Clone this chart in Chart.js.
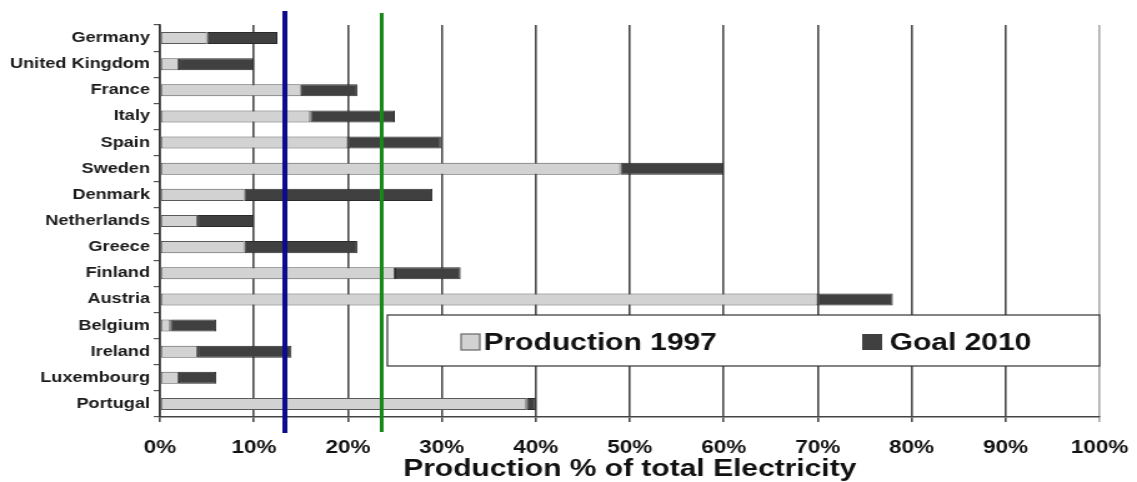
<!DOCTYPE html>
<html lang="en">
<head>
  <meta charset="UTF-8" />
  <title>Production 1997 vs Goal 2010</title>
  <script src="https://cdn.jsdelivr.net/npm/chart.js"></script>
  <style>
    html, body { margin: 0; background: #fff; overflow: hidden; }
    /* the source picture is stretched sideways, so draw narrow and stretch */
    #wrap { width: 910px; height: 482px; transform: scaleX(1.2495); transform-origin: 0 0; }
  </style>
</head>
<body>
  <div id="wrap"><canvas id="chart" width="910" height="482"></canvas></div>

  <script>
    const countries = ['Germany', 'United Kingdom', 'France', 'Italy', 'Spain', 'Sweden', 'Denmark',
      'Netherlands', 'Greece', 'Finland', 'Austria', 'Belgium', 'Ireland', 'Luxembourg', 'Portugal'];
    const production1997 = [5, 2, 15, 16, 20, 49, 9, 4, 9, 25, 70, 1.1, 4, 2, 39];
    const goal2010 = [12.5, 10, 21, 25, 29.9, 60, 29, 10, 21, 32, 78, 6, 14, 6, 40];
    const blueMark = 13.3;
    const greenMark = 23.6;

    const font = "'Liberation Sans', Arial, sans-serif";

    // legend box + the two vertical marker lines
    const overlay = {
      id: 'overlay',
      afterDatasetsDraw(chart) {
        const { ctx, chartArea } = chart;
        const x = chart.scales.x;
        ctx.save();

        // legend
        ctx.fillStyle = '#fff';
        ctx.strokeStyle = '#333';
        ctx.lineWidth = 1.2;
        ctx.fillRect(310, 315, chartArea.right - 310, 51);
        ctx.strokeRect(310, 315, chartArea.right - 310, 51);
        ctx.fillStyle = '#d2d2d2';
        ctx.fillRect(369, 334, 15, 16);
        ctx.strokeStyle = '#666';
        ctx.strokeRect(369, 334, 15, 16);
        ctx.fillStyle = '#404040';
        ctx.fillRect(690, 334, 16, 16);
        ctx.fillStyle = '#111';
        ctx.font = 'bold 24px ' + font;
        ctx.textBaseline = 'alphabetic';
        ctx.fillText('Production 1997', 387, 350);
        ctx.fillText('Goal 2010', 712, 350);

        // markers
        ctx.strokeStyle = '#0b0b8c';
        ctx.lineWidth = 4;
        ctx.beginPath();
        ctx.moveTo(x.getPixelForValue(blueMark), chartArea.top - 14);
        ctx.lineTo(x.getPixelForValue(blueMark), chartArea.bottom + 16);
        ctx.stroke();
        ctx.strokeStyle = '#17891a';
        ctx.lineWidth = 3;
        ctx.beginPath();
        ctx.moveTo(x.getPixelForValue(greenMark), chartArea.top - 12);
        ctx.lineTo(x.getPixelForValue(greenMark), chartArea.bottom + 15);
        ctx.stroke();
        ctx.restore();
      }
    };

    new Chart(document.getElementById('chart'), {
      type: 'bar',
      data: {
        labels: countries,
        datasets: [
          {
            label: 'Production 1997',
            data: production1997,
            backgroundColor: '#d2d2d2',
            borderColor: '#5a5a5a',
            borderWidth: 1,
            borderSkipped: false
          },
          {
            label: 'Goal 2010',
            data: countries.map((c, i) => [production1997[i], goal2010[i]]),
            backgroundColor: '#404040',
            borderColor: '#2a2a2a',
            borderWidth: 1,
            borderSkipped: false
          }
        ]
      },
      options: {
        indexAxis: 'y',
        responsive: false,
        animation: false,
        grouped: false,
        barPercentage: 0.46,
        categoryPercentage: 1,
        layout: { padding: { top: 25, right: 30, left: 0, bottom: 0 } },
        plugins: {
          legend: { display: false },
          tooltip: { enabled: false }
        },
        scales: {
          x: {
            min: 0,
            max: 100,
            ticks: {
              stepSize: 10,
              callback: v => v + '%',
              font: { family: font, size: 18, weight: 'bold' },
              color: '#111',
              padding: 15
            },
            grid: {
              color: c => c.tick && c.tick.value === 100 ? '#a8a8a8' : '#4a4a4a',
              lineWidth: 1.6,
              tickLength: 5
            },
            border: { color: '#444', width: 1.6 },
            title: {
              display: true,
              text: 'Production % of total Electricity',
              font: { family: font, size: 24, weight: 'bold', lineHeight: 1 },
              color: '#111',
              padding: { top: 0, bottom: 1 }
            },
            afterFit: s => { s.height = 65; s.paddingLeft = 0; s.paddingRight = 0; }
          },
          y: {
            ticks: {
              font: { family: font, size: 14.5, weight: 'bold' },
              color: '#1a1a1a',
              padding: 3
            },
            grid: { drawOnChartArea: false, tickLength: 5, color: '#555', lineWidth: 1.2 },
            border: { color: '#333', width: 1.6 },
            afterFit: s => { s.width = 128; }
          }
        }
      },
      plugins: [overlay]
    });
  </script>
</body>
</html>
